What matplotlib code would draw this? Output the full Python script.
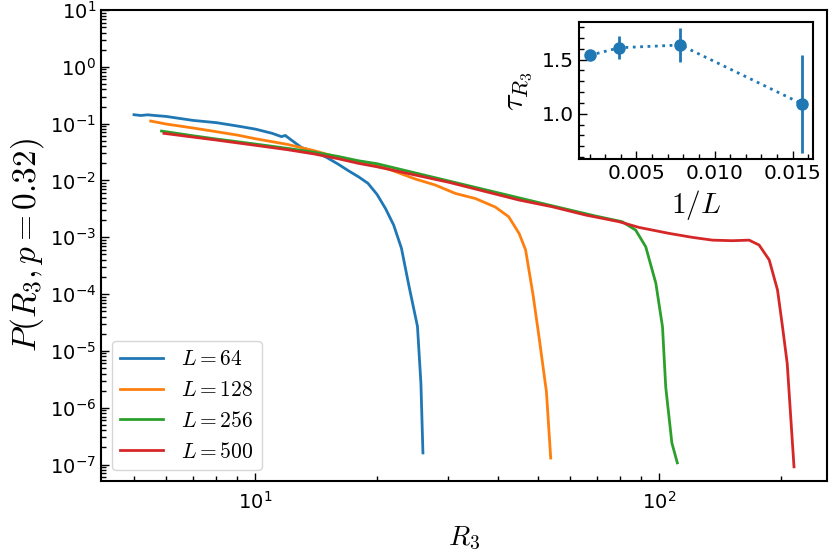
import numpy as np
import matplotlib
matplotlib.use("Agg")
import matplotlib.pyplot as plt
from matplotlib.ticker import LogLocator, AutoMinorLocator

plt.rcParams['mathtext.fontset'] = 'cm'
plt.rcParams['axes.unicode_minus'] = False

# P(R3) for each system size
r_64 = [5.0, 5.2, 5.4, 5.7, 6, 7, 8, 9, 10, 11, 11.6, 11.85, 12.2, 13, 14, 15, 16, 17, 18,
        19, 20, 21, 22, 23, 24, 25.2, 25.7, 26]
p_64 = [0.1435, 0.139, 0.143, 0.138, 0.134, 0.114, 0.104, 0.091, 0.080, 0.0675, 0.059, 0.062,
        0.053, 0.038, 0.032, 0.0255, 0.0195, 0.0148, 0.0116, 0.0089, 0.0057, 0.0032, 0.00164,
        6.4e-4, 1.4e-4, 2.7e-5, 2.7e-6, 1.6e-7]

r_128 = [5.5, 6, 7, 8, 9, 10, 12, 14, 16.3, 20.6, 24.9, 27.9, 31.3, 35.1, 39.3, 42.4, 45,
         46.7, 48.7, 50.4, 52.6, 53.9]
p_128 = [0.111, 0.0985, 0.0838, 0.0721, 0.063, 0.0542, 0.0431, 0.0333, 0.0245, 0.0174, 0.0106,
         0.0083, 0.0059, 0.0048, 0.0034, 0.0023, 0.00117, 6.0e-4, 1.0e-4, 1.8e-5, 1.9e-6, 1.3e-7]

r_256 = [5.85, 7, 8, 10, 12, 14, 16, 18, 20, 30.1, 53.3, 69.7, 81, 87.5, 92.7, 98.2, 102,
         103.9, 107.6, 111]
p_256 = [0.074, 0.0612, 0.0536, 0.0437, 0.0367, 0.0313, 0.0265, 0.0222, 0.0197, 0.0098, 0.0037,
         0.00236, 0.00188, 0.00134, 6.8e-4, 1.55e-4, 2.65e-5, 2.3e-6, 2.4e-7, 1.07e-7]

r_500 = [5.93, 7, 8, 10, 12, 14, 16, 18, 20, 30.1, 45, 54.4, 65.8, 79.6, 89.2, 105.9, 121,
         135.6, 152, 167.2, 177, 187.5, 196.6, 202.3, 207.8, 216]
p_500 = [0.0675, 0.058, 0.0514, 0.0415, 0.0348, 0.0292, 0.0242, 0.020, 0.0174, 0.0093, 0.00452,
         0.00344, 0.00246, 0.00188, 0.00149, 0.00117, 9.95e-4, 8.9e-4, 8.7e-4, 8.9e-4, 7.3e-4,
         4.0e-4, 1.18e-4, 2.65e-5, 6.0e-6, 9.1e-8]

sizes = [64, 128, 256, 500]
curves = [(r_64, p_64), (r_128, p_128), (r_256, p_256), (r_500, p_500)]

# exponent vs 1/L for the inset
inv_L = [1 / 500, 1 / 256, 1 / 128, 1 / 64]
tau = [1.54, 1.61, 1.635, 1.09]
tau_err = [0.02, 0.105, 0.155, 0.45]

fig = plt.figure(figsize=(8.3, 5.57), dpi=100)
ax = fig.add_axes([101 / 830, 1 - 481 / 557, 726 / 830, 471 / 557])

for L, (r, p) in zip(sizes, curves):
    ax.plot(r, p, lw=2, label=f'$L={L}$')

ax.set_xscale('log')
ax.set_yscale('log')
ax.set_ylim(10 ** -7.29, 10)
ax.yaxis.set_major_locator(LogLocator(base=10, numticks=20))
ax.yaxis.set_minor_locator(LogLocator(base=10, subs=np.arange(2, 10), numticks=20))
ax.tick_params(which='both', direction='in', labelsize=14, width=1)
ax.tick_params(which='major', length=6)
ax.tick_params(which='minor', length=3.5)
ax.tick_params(axis='x', which='major', pad=7)
for s in ax.spines.values():
    s.set_linewidth(1.5)
ax.set_xlabel('$R_3$', fontsize=20, labelpad=8)
ax.set_ylabel('$P(R_3,p=0.32)$', fontsize=24, labelpad=3)
ax.legend(loc='lower left', fontsize=15.5)

ins = fig.add_axes([579 / 830, 1 - 159 / 557, 234 / 830, 137 / 557])
ins.errorbar(inv_L, tau, yerr=tau_err, fmt='o', ls=':', lw=2, ms=8, elinewidth=2,
             color='tab:blue')
ins.xaxis.set_minor_locator(AutoMinorLocator())
ins.yaxis.set_minor_locator(AutoMinorLocator())
ins.tick_params(which='both', direction='in', labelsize=14.5, width=1)
ins.tick_params(which='major', length=6)
ins.tick_params(which='minor', length=3.5)
for s in ins.spines.values():
    s.set_linewidth(1.5)
ins.set_xlabel('$1/L$', fontsize=21)
ins.set_ylabel('$\\tau_{R_3}$', fontsize=23, labelpad=6)

fig.savefig('out.png', dpi=100)
